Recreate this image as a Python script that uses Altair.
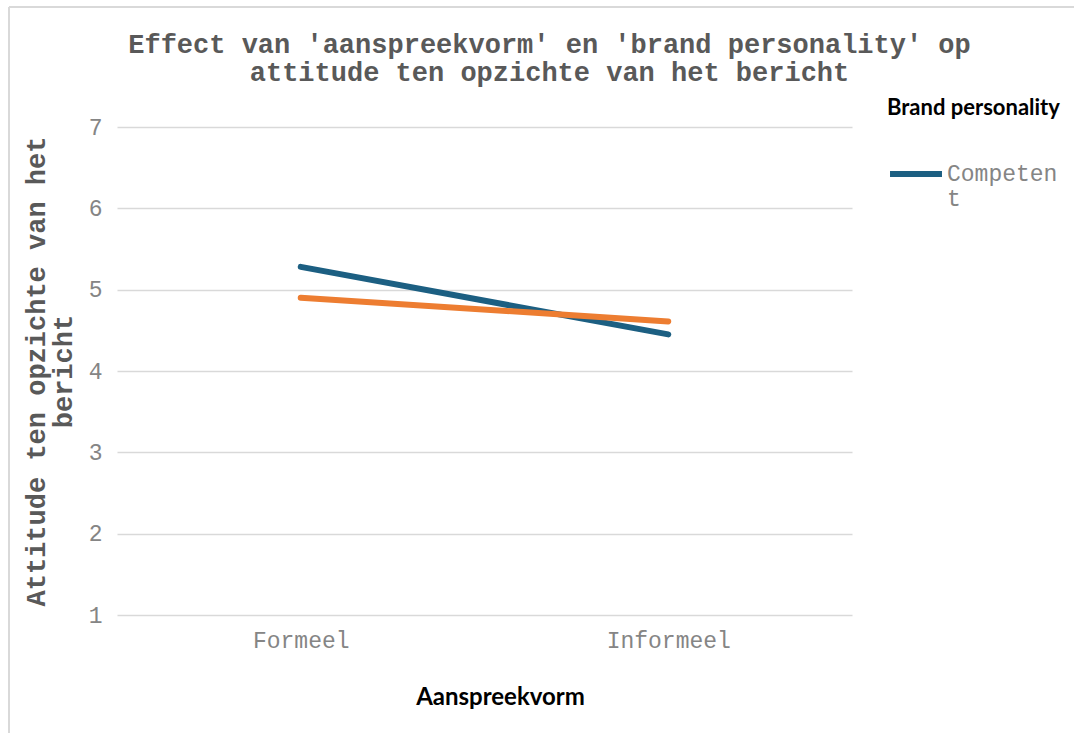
import altair as alt
import pandas as pd

categories = ["Formeel", "Informeel"]
series_names = ["Competent", "Oprecht"]
competent_values = [5.28, 4.45]
oprecht_values = [4.90, 4.61]
y_ticks = [1, 2, 3, 4, 5, 6, 7]

rows = []
for c, v in zip(categories, competent_values):
    rows.append({"Aanspreekvorm": c, "Brand personality": "Competent", "value": v})
for c, v in zip(categories, oprecht_values):
    rows.append({"Aanspreekvorm": c, "Brand personality": "Oprecht", "value": v})
df = pd.DataFrame(rows)

MONO = "Liberation Mono"
SANS = "Lato"
GRID = "#d9d9d9"
LABEL = "#858585"

color_scale = alt.Scale(domain=series_names, range=["#1c5f82", "#ed7d31"])

x_enc = alt.X(
    "Aanspreekvorm:N",
    sort=categories,
    scale=alt.Scale(type="point", padding=0.5),
    axis=alt.Axis(
        title="Aanspreekvorm",
        titleFont=SANS,
        titleFontSize=24,
        titleFontWeight="bold",
        titleColor="#000000",
        titleX=383,
        titleY=82,
        titleBaseline="middle",
        labelFont=MONO,
        labelFontSize=23,
        labelColor=LABEL,
        labelAngle=0,
        labelPadding=14,
        ticks=False,
        domain=False,
        grid=False,
    ),
)
y_enc = alt.Y(
    "value:Q",
    scale=alt.Scale(domain=[1, 7], nice=False, zero=False),
    axis=alt.Axis(
        title=["Attitude ten opzichte van het", "bericht"],
        titleFont=MONO,
        titleFontSize=27,
        titleFontWeight="bold",
        titleColor="#595959",
        titleAngle=270,
        titleBaseline="middle",
        titleAlign="center",
        titleX=-81,
        titleY=244,
        titleLineHeight=27,
        labelFont=MONO,
        labelFontSize=23,
        labelColor=LABEL,
        labelPadding=15,
        values=y_ticks,
        ticks=False,
        domain=False,
        grid=True,
        gridColor=GRID,
        gridWidth=1.5,
    ),
)

color_enc = alt.Color(
    "Brand personality:N",
    scale=color_scale,
    legend=alt.Legend(
        title="Brand personality",
        titleFont=SANS,
        titleFontSize=22,
        titleFontWeight="bold",
        titleColor="#000000",
        titlePadding=25,
        labelFont=MONO,
        labelFontSize=23,
        labelColor=LABEL,
        labelExpr="datum.label == 'Competent' ? ['Competen', 't'] : datum.label",
        values=["Competent"],
        orient="none",
        legendX=770,
        legendY=-29,
        symbolType="stroke",
        symbolSize=2700,
        symbolStrokeWidth=6,
        labelOffset=2,
    ),
)

base = alt.Chart(df).encode(x=x_enc, y=y_enc, color=color_enc)

line_comp = base.transform_filter(alt.datum["Brand personality"] == "Competent").mark_line(
    strokeWidth=6, strokeCap="round"
)
line_opr = base.transform_filter(alt.datum["Brand personality"] == "Oprecht").mark_line(
    strokeWidth=6, strokeCap="round"
)

frame_data = alt.Data(values=[{"k": 1}])
top_border = alt.Chart(frame_data).mark_rule(color=GRID, strokeWidth=2).encode(
    x=alt.value(-108), x2=alt.value(960), y=alt.value(-120)
)
left_border = alt.Chart(frame_data).mark_rule(color=GRID, strokeWidth=2).encode(
    x=alt.value(-108), y=alt.value(-120), y2=alt.value(610)
)

chart = (
    alt.layer(top_border, left_border, line_comp, line_opr)
    .properties(
        width=735,
        height=488,
        background="#ffffff",
        title=alt.TitleParams(
            text=["Effect van 'aanspreekvorm' en 'brand personality' op",
                  "attitude ten opzichte van het bericht"],
            font=MONO,
            fontSize=27,
            fontWeight="bold",
            color="#595959",
            anchor="middle",
            frame="group",
            dx=65,
            dy=119,
            offset=38,
            lineHeight=28,
        ),
        autosize=alt.AutoSizeParams(type="none"),
        padding={"left": 117, "top": 127, "right": 222, "bottom": 118},
    )
    .configure_view(stroke=None, strokeWidth=0)
    .configure_axis(domain=False)
)

chart.save("out.html", embed_options={"renderer": "svg", "actions": False})
